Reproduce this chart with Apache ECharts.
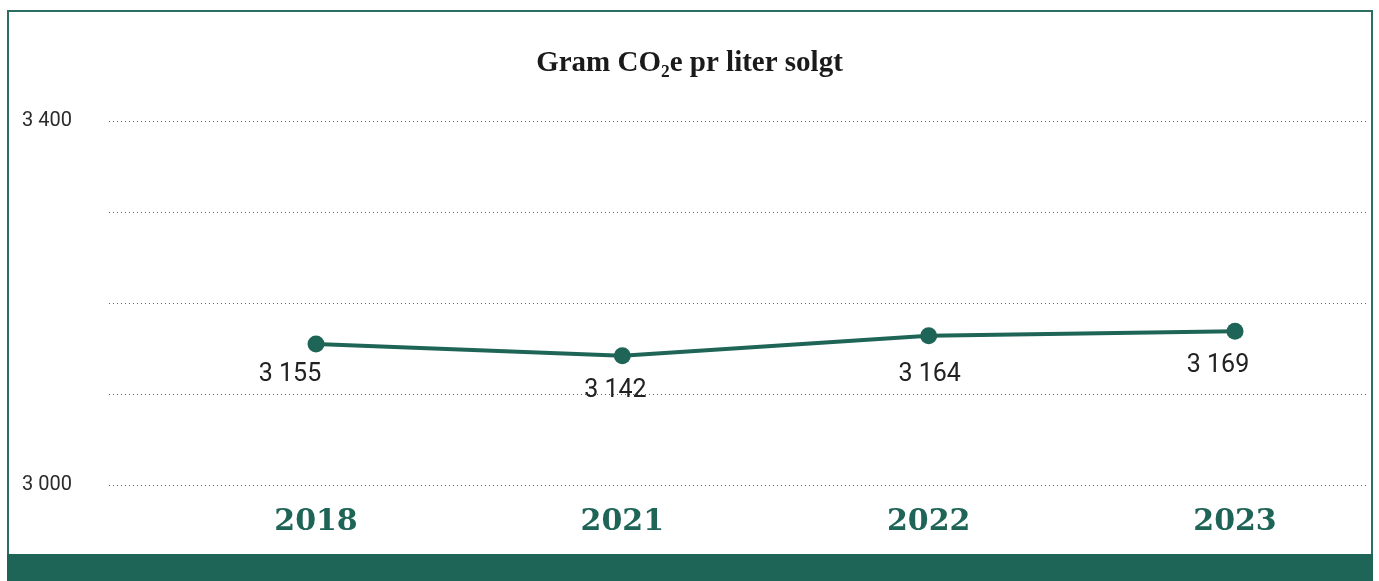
<!DOCTYPE html>
<html>
<head>
<meta charset="utf-8">
<script src="https://cdn.jsdelivr.net/npm/echarts@6/dist/echarts.min.js"></script>
<style>
    html, body { margin: 0; padding: 0; background: #fff; }
    #chart { width: 1379px; height: 581px; }
</style>
</head>
<body>
<div id="chart"></div>
<script>
const years = ["2018", "2021", "2022", "2023"]
const values = [3155, 3142, 3164, 3169]
const yMin = 3000
const yMax = 3400
const yStep = 100
const yLabelTicks = [3000, 3400]

// where each value label sits relative to its point (px), as in the original
const labelShift = [[-26, 31], [-7, 35], [1, 39], [-17, 35]]

const green = "#1e6457"
const fmt = (v) => String(v).replace(/\B(?=(\d{3})+(?!\d))/g, " ")

const chart = echarts.init(document.getElementById("chart"))

const yBase = {
    type: "value",
    min: yMin,
    max: yMax,
    interval: yStep,
    axisLine: { show: false },
    axisTick: { show: false },
}

chart.setOption({
    animation: false,
    title: {
        text: "Gram CO₂e pr liter solgt",
        left: "center",
        top: 44,
        textStyle: {
            fontFamily: "Liberation Serif",
            fontWeight: "bold",
            fontSize: 29,
            color: "#1a1a1a",
        },
    },
    graphic: [
        {
            type: "rect",
            shape: { x: 8, y: 11, width: 1364, height: 560 },
            style: { fill: "none", stroke: "#2a6f61", lineWidth: 2 },
            z: 0,
        },
        {
            type: "rect",
            shape: { x: 7, y: 554, width: 1366, height: 27 },
            style: { fill: green },
            z: 1,
        },
    ],
    grid: [
        { left: 316, right: 144, top: 121, bottom: 96 },
        { left: 109, right: 11, top: 121, bottom: 96 },
    ],
    xAxis: [
        {
            type: "category",
            gridIndex: 0,
            data: years,
            boundaryGap: false,
            axisLine: { show: false },
            axisTick: { show: false },
            axisLabel: {
                margin: 22,
                fontFamily: "DejaVu Serif",
                fontWeight: "bold",
                fontSize: 30,
                color: green,
            },
        },
        {
            type: "category",
            gridIndex: 1,
            data: years,
            show: false,
        },
    ],
    yAxis: [
        {
            ...yBase,
            gridIndex: 0,
            axisLabel: { show: false },
            splitLine: { show: false },
        },
        {
            ...yBase,
            gridIndex: 1,
            axisLabel: {
                margin: 37,
                fontFamily: "Roboto",
                fontSize: 20,
                color: "#2b2b2b",
                formatter: (v) => (yLabelTicks.includes(v) ? fmt(v) : ""),
            },
            splitLine: {
                show: true,
                lineStyle: { type: [1, 3], color: "#2f7a68", width: 1 },
            },
        },
    ],
    series: [
        {
            type: "line",
            xAxisIndex: 0,
            yAxisIndex: 0,
            data: values.map((v, i) => ({
                value: v,
                label: { offset: labelShift[i] },
            })),
            symbol: "circle",
            symbolSize: 17,
            lineStyle: { color: green, width: 4 },
            itemStyle: { color: green },
            label: {
                show: true,
                position: "inside",
                fontFamily: "Roboto",
                fontSize: 25,
                color: "#222",
                formatter: (p) => fmt(p.value),
            },
            z: 3,
        },
    ],
})
</script>
</body>
</html>
